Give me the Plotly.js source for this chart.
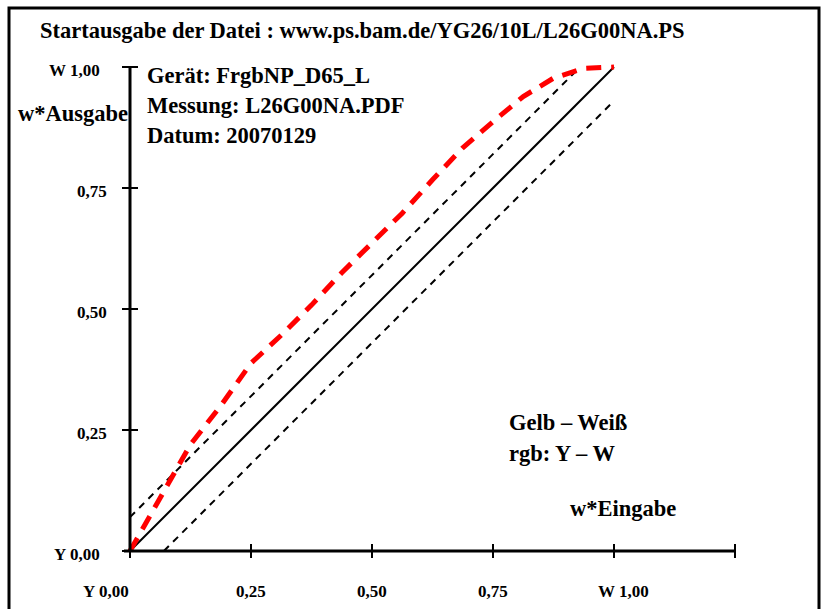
<!DOCTYPE html>
<html>
<head>
<meta charset="utf-8">
<script src="https://cdn.plot.ly/plotly-3.0.1.min.js"></script>
<style>html,body{margin:0;padding:0;background:#fff;}#chart{width:826px;height:609px;}</style>
</head>
<body>
<div id="chart"></div>
<script>
// ---- data ----
const curveX = [0, 0.0625, 0.125, 0.1875, 0.25, 0.3125, 0.375, 0.4375, 0.5, 0.5625, 0.625, 0.6875, 0.75, 0.8125, 0.875, 0.9375, 1.0];
const curveY = [0, 0.11, 0.22, 0.30, 0.388, 0.446, 0.508, 0.575, 0.636, 0.698, 0.767, 0.833, 0.887, 0.939, 0.977, 0.997, 1.0];
const identX = [0, 1];
const identY = [0, 1];
const upperX = [0, 0.93];
const upperY = [0.07, 1.0];
const lowerX = [0.07, 1.0];
const lowerY = [0, 0.93];
const xTicks = [0, 0.25, 0.5, 0.75, 1.0, 1.25];
const xTickLabels = ['Y 0,00', '0,25', '0,50', '0,75', 'W 1,00', ''];
const yTicks = [0, 0.25, 0.5, 0.75, 1.0];
const yTickLabels = ['Y 0,00', '0,25', '0,50', '0,75', 'W 1,00'];
const titleText = 'Startausgabe der Datei : www.ps.bam.de/YG26/10L/L26G00NA.PS';
const infoLines = ['Gerät: FrgbNP_D65_L', 'Messung: L26G00NA.PDF', 'Datum: 20070129'];
const colorLines = ['Gelb – Weiß', 'rgb: Y – W'];
const yAxisTitle = 'w*Ausgabe';
const xAxisTitle = 'w*Eingabe';

// ---- geometry (pixel mapping) ----
const W = 826, H = 609;
const X0PX = 130, Y0PX = 551, UNIT = 484;
const xRange = [-X0PX / UNIT, (W - X0PX) / UNIT];
const yRange = [-(H - Y0PX) / UNIT, Y0PX / UNIT];
const px = p => p / UNIT;
const FONT = 'Liberation Serif, Times New Roman, serif';

const traces = [
  {x: identX, y: identY, mode: 'lines', line: {color: '#000', width: 2}, hoverinfo: 'skip'},
  {x: upperX, y: upperY, mode: 'lines', line: {color: '#000', width: 2, dash: '7px,6px'}, hoverinfo: 'skip'},
  {x: lowerX, y: lowerY, mode: 'lines', line: {color: '#000', width: 2, dash: '7px,6px'}, hoverinfo: 'skip'},
  {x: curveX, y: curveY, mode: 'lines', line: {color: '#ff0000', width: 5, dash: '15px,10px'}, hoverinfo: 'skip'}
];

const shapes = [];
// frame
shapes.push({type: 'rect', xref: 'paper', yref: 'paper', x0: 9 / W, x1: 819 / W, y0: -0.02, y1: 1 - 8 / H,
  line: {color: '#000', width: 3}});
// axes
shapes.push({type: 'line', xref: 'x', yref: 'y', x0: -px(6), x1: xTicks[xTicks.length - 1], y0: 0, y1: 0, line: {color: '#000', width: 3}});
shapes.push({type: 'line', xref: 'x', yref: 'y', x0: 0, x1: 0, y0: 0, y1: yTicks[yTicks.length - 1], line: {color: '#000', width: 3}});
xTicks.forEach(t => shapes.push({type: 'line', xref: 'x', yref: 'y', x0: t, x1: t, y0: -px(7), y1: px(7), line: {color: '#000', width: 2}}));
yTicks.forEach(t => shapes.push({type: 'line', xref: 'x', yref: 'y', x0: -px(8), x1: px(8), y0: t, y1: t, line: {color: '#000', width: 2}}));

const annotations = [];
const txt = (text, x, y, size, anchor, opts) => Object.assign({
  text: text, x: x, y: y, xref: 'x', yref: 'y', showarrow: false, xanchor: anchor || 'left', yanchor: 'middle',
  font: {family: FONT, size: size, color: '#000', weight: 'bold'}
}, opts || {});
const pxX = p => (p - X0PX) / UNIT;
const pxY = p => (Y0PX - p) / UNIT;

const BIG = 22.5;
annotations.push(txt('<b>' + titleText + '</b>', pxX(38), pxY(30), BIG));
infoLines.forEach((s, i) => annotations.push(txt('<b>' + s + '</b>', pxX(145), pxY(75 + i * 30), BIG)));
colorLines.forEach((s, i) => annotations.push(txt('<b>' + s + '</b>', pxX(507), pxY(422 + i * 31), BIG)));
annotations.push(txt('<b>' + xAxisTitle + '</b>', pxX(568), pxY(508), BIG));
annotations.push(txt('<b>' + yAxisTitle + '</b>', pxX(16), pxY(113), BIG));

xTickLabels.forEach((s, i) => {
  if (!s) return;
  let anchor = 'center', shift = 0;
  if (i === 0) { anchor = 'right'; shift = 1; }
  if (i === 4) { shift = 9; }
  annotations.push(txt('<b>' + s + '</b>', xTicks[i], 0, 17, anchor, {xshift: shift, yshift: -40}));
});
yTickLabels.forEach((s, i) => {
  const prefixed = /^[A-Z]/.test(s);
  annotations.push(txt('<b>' + s + '</b>', 0, yTicks[i], 17, 'right', {xshift: prefixed ? -28 : -21, yshift: -3}));
});

const layout = {
  width: W, height: H, margin: {l: 0, r: 0, t: 0, b: 0}, paper_bgcolor: '#fff', plot_bgcolor: '#fff',
  showlegend: false,
  xaxis: {range: xRange, visible: false, fixedrange: true},
  yaxis: {range: yRange, visible: false, fixedrange: true},
  shapes: shapes, annotations: annotations
};
Plotly.newPlot('chart', traces, layout, {staticPlot: true, displayModeBar: false});
</script>
</body>
</html>
